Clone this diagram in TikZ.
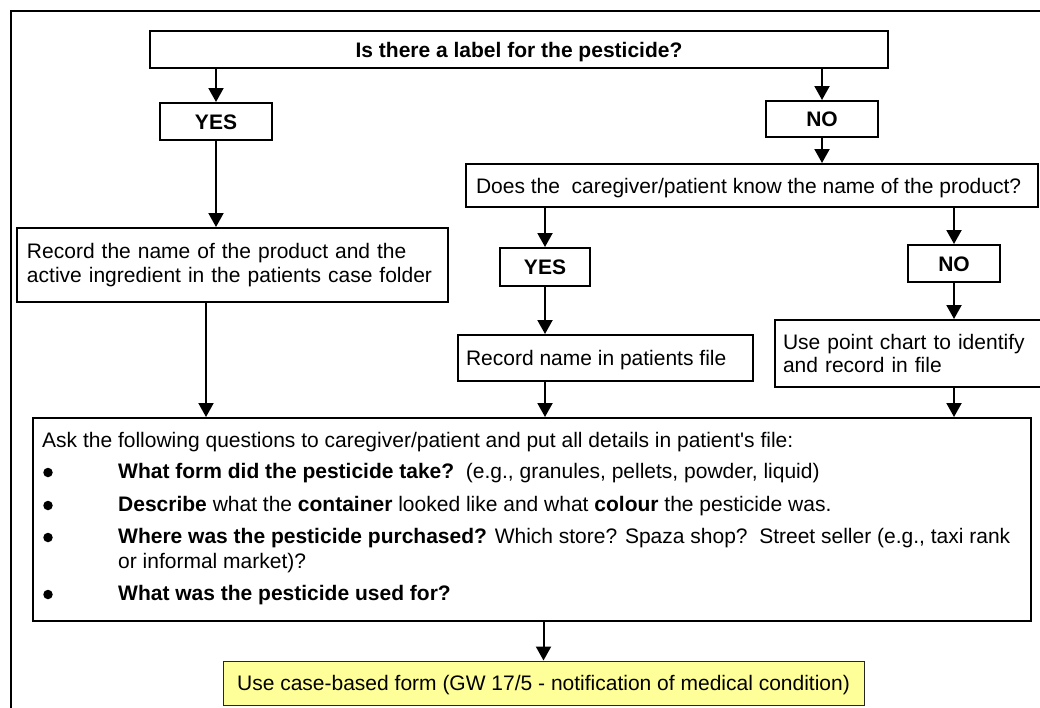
\documentclass[tikz,border=0pt]{standalone}
\usepackage{fontspec}
\setmainfont{Liberation Sans}
\usetikzlibrary{arrows.meta}
\definecolor{formfill}{HTML}{FFFF99}
\newcommand\dfont{\fontsize{21pt}{23.5pt}\selectfont}
\begin{document}
\begin{tikzpicture}[x=1pt,y=-1pt,
  every node/.style={font=\dfont},
  box/.style={draw,line width=2pt,inner sep=0pt,text height=15pt,text depth=0pt},
  lbox/.style={draw,line width=2pt,inner ysep=0pt,inner xsep=10pt,align=left},
  arr/.style={line width=2pt,-{Triangle[width=15pt,length=14pt]}},
  txt/.style={anchor=base west,inner sep=0pt},
  bul/.style={circle,fill=black,inner sep=0pt,minimum size=9.5pt}]
\useasboundingbox (0,0) rectangle (1040,707);
% outer frame (cropped at right and bottom)
\draw[line width=2pt] (11,730) -- (11,10.5) -- (1060,10.5);

% nodes
\node[box,minimum width=738pt,minimum height=37pt,font=\dfont\bfseries] (q1) at (519,49.5) {Is there a label for the pesticide?};
\node[box,minimum width=112pt,minimum height=37pt,font=\dfont\bfseries] (yes1) at (216,121.5) {YES};
\node[box,minimum width=112pt,minimum height=36pt,font=\dfont\bfseries] (no1) at (822,119) {NO};
\node[box,minimum width=572pt,minimum height=43pt] (q2) at (752,185.5) {\makebox[552pt][l]{Does the\ \ caregiver/patient know the name of the product?}};
\node[box,minimum width=90pt,minimum height=38pt,font=\dfont\bfseries] (yes2) at (545,267) {YES};
\node[box,minimum width=92pt,minimum height=37pt,font=\dfont\bfseries] (no2) at (954,263.5) {NO};
\node[lbox,text width=411pt,minimum height=74pt] (rec1) at (232.5,265) {Record the name of the product and the\\active ingredient in the patients case folder};
\node[box,minimum width=295pt,minimum height=46pt] (rec2) at (605.5,358) {\makebox[279pt][l]{Record name in patients file}};
\node[lbox,inner xsep=8pt,text width=254pt,minimum height=67pt] (pc) at (910,353.5) {Use point chart to identify\\and record in file};
\node[draw,line width=2pt,minimum width=998pt,minimum height=203pt,inner sep=0pt] (ask) at (532,519.5) {};
\node[box,line width=1pt,draw=black!85,fill=formfill,minimum width=641pt,minimum height=44pt] (form) at (543.5,683) {Use case-based form (GW 17/5 - notification of medical condition)};

% text inside the question box
\node[txt] (t0) at (42,447) {Ask the following questions to caregiver/patient and put all details in patient\textquotesingle s file:};
\node[bul] (b1) at (48,472.5) {};
\node[txt] (t1) at (118,478) {\textbf{What form did the pesticide take?}\ \ (e.g., granules, pellets, powder, liquid)};
\node[bul] (b2) at (48,505.5) {};
\node[txt] (t2) at (118,511) {\textbf{Describe} what the \textbf{container} looked like and what \textbf{colour} the pesticide was.};
\node[bul] (b3) at (48,537.5) {};
\node[txt] (t3) at (118,543) {\textbf{Where was the pesticide purchased?} Which store? Spaza shop?\ \ Street seller (e.g., taxi rank};
\node[txt] (t3b) at (118,568) {or informal market)?};
\node[bul] (b4) at (48,594.5) {};
\node[txt] (t4) at (118,600) {\textbf{What was the pesticide used for?}};

% connectors
\draw[arr] (yes1.north |- q1.south) -- (yes1.north);
\draw[arr] (no1.north |- q1.south) -- (no1.north);
\draw[arr] (no1.south) -- (no1.south |- q2.north);
\draw[arr] (yes1.south) -- (yes1.south |- rec1.north);
\draw[arr] (yes2.north |- q2.south) -- (yes2.north);
\draw[arr] (no2.north |- q2.south) -- (no2.north);
\draw[arr] (yes2.south) -- (yes2.south |- rec2.north);
\draw[arr] (no2.south) -- (no2.south |- pc.north);
\coordinate (r1s) at ([xshift=190pt]rec1.south west);
\draw[arr] (r1s) -- (r1s |- ask.north);
\draw[arr] (yes2.south |- rec2.south) -- (yes2.south |- ask.north);
\draw[arr] (no2.south |- pc.south) -- (no2.south |- ask.north);
\draw[arr] (form.north |- ask.south) -- (form.north);
\end{tikzpicture}
\end{document}
